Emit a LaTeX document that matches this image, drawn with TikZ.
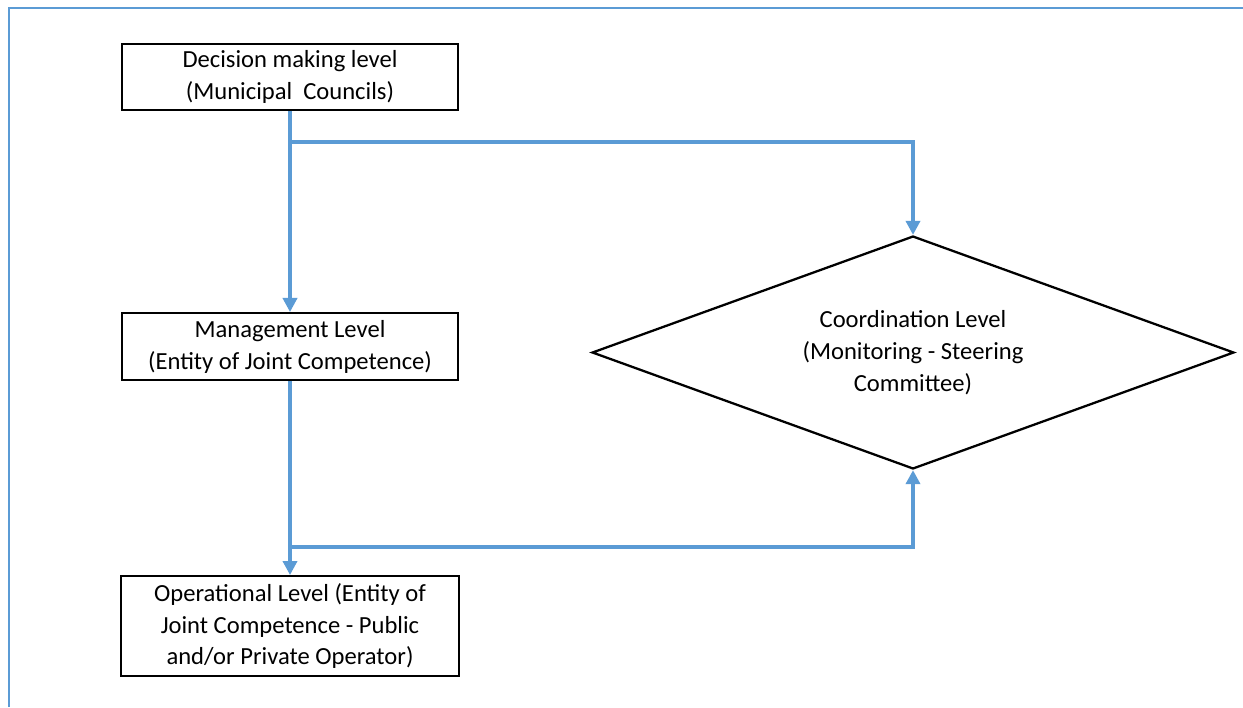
\documentclass[tikz,border=0pt]{standalone}
\usepackage{fontspec}
\setmainfont{Carlito}
\usetikzlibrary{arrows.meta,shapes.geometric}
\definecolor{linkblue}{RGB}{91,155,213}

\tikzset{
  levelbox/.style={draw=black,line width=1.1pt,inner sep=0pt,align=center,
    font=\fontsize{14}{18.2}\selectfont},
  link/.style={draw=linkblue,line width=2.3pt,->},
}

\begin{document}
\begin{tikzpicture}[x=0.02cm,y=-0.02cm,>={Triangle[length=8pt,width=8pt]}]
\useasboundingbox (0,0) rectangle (1243,707);
\draw[linkblue,line width=1.2pt] (9,707) -- (9,8) -- (1243,8);

\node[levelbox,minimum width=6.72cm,minimum height=1.32cm] (decision) at (290,77)
  {Decision making level\\(Municipal\ \ Councils)};
\node[levelbox,minimum width=6.72cm,minimum height=1.34cm] (management) at (290,346.5)
  {Management Level\\(Entity of Joint Competence)};
\node[levelbox,minimum width=6.76cm,minimum height=2cm] (operational) at (290,626)
  {Operational Level (Entity of\\Joint Competence - Public\\and/or Private Operator)};
\node[levelbox,diamond,aspect=2.75,line width=1.3pt,minimum width=12.84cm,minimum height=4.66cm] (coordination) at (913,352.5)
  {Coordination Level\\(Monitoring - Steering\\Committee)};

\coordinate (split1) at (290,142);
\coordinate (split2) at (290,547);

\draw[link] (decision.south) -- (management.north);
\draw[link] (split1) -| (coordination.north);
\draw[link] (management.south) -- (operational.north);
\draw[link] (split2) -| (coordination.south);
\end{tikzpicture}
\end{document}
